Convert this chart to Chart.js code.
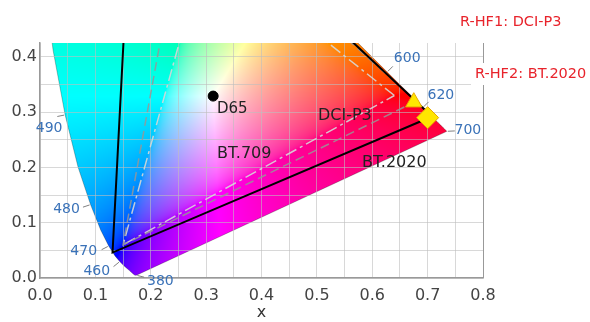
<!DOCTYPE html>
<html>
<head>
<meta charset="utf-8">
<script src="https://cdn.jsdelivr.net/npm/chart.js@4.4.0/dist/chart.umd.min.js"></script>
<style>
  html, body { margin: 0; padding: 0; background: #fff; }
  #wrap { width: 590px; height: 322px; }
</style>
</head>
<body>
<div id="wrap"><canvas id="cie"></canvas></div>
<script>
// CIE 1931 spectral locus, 380 - 700 nm in 5 nm steps
const wavelengths = [380, 385, 390, 395, 400, 405, 410, 415, 420, 425, 430, 435, 440, 445, 450, 455,
    460, 465, 470, 475, 480, 485, 490, 495, 500, 505, 510, 515, 520, 525, 530, 535, 540, 545, 550,
    555, 560, 565, 570, 575, 580, 585, 590, 595, 600, 605, 610, 615, 620, 625, 630, 635, 640, 645,
    650, 655, 660, 665, 670, 675, 680, 685, 690, 695, 700];
const locusX = [0.1741, 0.1740, 0.1738, 0.1736, 0.1733, 0.1730, 0.1726, 0.1721, 0.1714, 0.1703, 0.1689,
    0.1669, 0.1644, 0.1611, 0.1566, 0.1510, 0.1440, 0.1355, 0.1241, 0.1096, 0.0913, 0.0687, 0.0454,
    0.0235, 0.0082, 0.0039, 0.0139, 0.0389, 0.0743, 0.1142, 0.1547, 0.1929, 0.2296, 0.2658, 0.3016,
    0.3373, 0.3731, 0.4087, 0.4441, 0.4788, 0.5125, 0.5448, 0.5752, 0.6029, 0.6270, 0.6482, 0.6658,
    0.6801, 0.6915, 0.7006, 0.7079, 0.7140, 0.7190, 0.7230, 0.7260, 0.7283, 0.7300, 0.7311, 0.7320,
    0.7327, 0.7334, 0.7340, 0.7344, 0.7346, 0.7347];
const locusY = [0.0050, 0.0050, 0.0049, 0.0049, 0.0048, 0.0048, 0.0048, 0.0048, 0.0051, 0.0058, 0.0069,
    0.0086, 0.0109, 0.0138, 0.0177, 0.0227, 0.0297, 0.0399, 0.0578, 0.0868, 0.1327, 0.2007, 0.2950,
    0.4127, 0.5384, 0.6548, 0.7502, 0.8120, 0.8338, 0.8262, 0.8059, 0.7816, 0.7543, 0.7243, 0.6923,
    0.6589, 0.6245, 0.5896, 0.5547, 0.5202, 0.4866, 0.4544, 0.4242, 0.3965, 0.3725, 0.3514, 0.3340,
    0.3197, 0.3083, 0.2993, 0.2920, 0.2859, 0.2809, 0.2770, 0.2740, 0.2717, 0.2700, 0.2689, 0.2680,
    0.2673, 0.2666, 0.2660, 0.2656, 0.2654, 0.2653];
const wlLabels = [380, 460, 470, 480, 490, 600, 620, 700];

// colour gamut primaries (R, G, B)
const bt709X = [0.64, 0.30, 0.15];
const bt709Y = [0.33, 0.60, 0.06];
const p3X = [0.68, 0.265, 0.15];
const p3Y = [0.32, 0.69, 0.06];
const bt2020X = [0.708, 0.17, 0.131];
const bt2020Y = [0.292, 0.797, 0.046];

// white point and the two red markers
const d65X = [0.3127];
const d65Y = [0.329];
const hf1X = [0.675];
const hf1Y = [0.318];
const hf2X = [0.70];
const hf2Y = [0.29];

const xTickLabels = ['0.0', '0.1', '0.2', '0.3', '0.4', '0.5', '0.6', '0.7', '0.8'];
const yTickLabels = ['0.0', '0.1', '0.2', '0.3', '0.4'];

function points(xs, ys, closed) {
    const pts = xs.map((v, i) => ({ x: v, y: ys[i] }));
    if (closed) pts.push(pts[0]);
    return pts;
}

/* chromaticity -> displayable sRGB, out of gamut colours partly desaturated */
function xyToRgb(x, y) {
    if (y < 0.0005) y = 0.0005;
    const X = x / y, Y = 1, Z = (1 - x - y) / y;
    let r = 3.2406 * X - 1.5372 * Y - 0.4986 * Z;
    let g = -0.9689 * X + 1.8758 * Y + 0.0415 * Z;
    let b = 0.0557 * X - 0.2040 * Y + 1.0570 * Z;
    const mn = Math.min(r, g, b);
    if (mn < 0) { r -= mn * 0.5; g -= mn * 0.5; b -= mn * 0.5; }
    r = Math.max(0, r); g = Math.max(0, g); b = Math.max(0, b);
    const mx = Math.max(r, g, b);
    return [r, g, b].map(c => {
        c = c / mx;
        c = c <= 0.0031308 ? 12.92 * c : 1.055 * Math.pow(c, 1 / 2.4) - 0.055;
        return Math.round(255 * Math.min(1, Math.max(0, c)));
    });
}

function locusPath(ctx, sx, sy) {
    ctx.beginPath();
    locusX.forEach((v, i) => {
        const px = sx.getPixelForValue(v), py = sy.getPixelForValue(locusY[i]);
        if (i) ctx.lineTo(px, py); else ctx.moveTo(px, py);
    });
    ctx.closePath();
}

/* paints the horseshoe before the grid is drawn */
const locusFill = {
    id: 'locusFill',
    beforeDraw(chart) {
        const { ctx, chartArea: a, scales } = chart;
        const sx = scales.x, sy = scales.y;
        const w = Math.ceil(a.right - a.left), h = Math.ceil(a.bottom - a.top);
        const off = document.createElement('canvas');
        off.width = w;
        off.height = h;
        const octx = off.getContext('2d');
        const img = octx.createImageData(w, h);
        for (let j = 0; j < h; j++) {
            const cy = sy.getValueForPixel(a.top + j + 0.5);
            for (let i = 0; i < w; i++) {
                const cx = sx.getValueForPixel(a.left + i + 0.5);
                const rgb = xyToRgb(cx, cy);
                const k = (j * w + i) * 4;
                img.data[k] = rgb[0];
                img.data[k + 1] = rgb[1];
                img.data[k + 2] = rgb[2];
                img.data[k + 3] = 255;
            }
        }
        octx.putImageData(img, 0, 0);

        ctx.save();
        ctx.beginPath();
        ctx.rect(a.left, a.top, a.right - a.left, a.bottom - a.top);
        ctx.clip();
        locusPath(ctx, sx, sy);
        ctx.save();
        ctx.clip();
        ctx.drawImage(off, a.left, a.top);
        ctx.restore();
        ctx.strokeStyle = 'rgba(0,0,0,0.25)';
        ctx.lineWidth = 1;
        ctx.stroke();
        ctx.restore();
    }
};

// label centre offsets (px) from the locus point
const wlOffsets = { 380: [24, 6], 460: [-23, 10], 470: [-25, 5], 480: [-24, 5], 490: [-16, 13],
    600: [20, -14], 620: [18, -12], 700: [21, -1] };

const textLabels = [
    { text: 'D65', x: 0.3196, y: 0.3056, size: 15 },
    { text: 'BT.709', x: 0.3196, y: 0.225, size: 16 },
    { text: 'DCI-P3', x: 0.502, y: 0.294, size: 16 },
    { text: 'BT.2020', x: 0.5815, y: 0.209, size: 16 }
];

const annotate = {
    id: 'annotate',
    afterDraw(chart) {
        const { ctx, scales } = chart;
        const sx = scales.x, sy = scales.y;
        const wx = sx.getPixelForValue(d65X[0]), wy = sy.getPixelForValue(d65Y[0]);
        ctx.save();

        // wavelength ticks and labels
        ctx.font = '14px "DejaVu Sans"';
        ctx.textAlign = 'center';
        ctx.textBaseline = 'middle';
        for (const wl of wlLabels) {
            const i = wavelengths.indexOf(wl);
            const px = sx.getPixelForValue(locusX[i]), py = sy.getPixelForValue(locusY[i]);
            const off = wlOffsets[wl];
            const i0 = Math.max(0, i - 2), i1 = Math.min(wavelengths.length - 1, i + 2);
            let tx = sx.getPixelForValue(locusX[i1]) - sx.getPixelForValue(locusX[i0]);
            let ty = sy.getPixelForValue(locusY[i1]) - sy.getPixelForValue(locusY[i0]);
            let len = Math.hypot(tx, ty);
            let nx, ny;
            if (len < 2) {
                len = Math.hypot(off[0], off[1]);
                nx = off[0] / len; ny = off[1] / len;
            } else {
                nx = ty / len; ny = -tx / len;
                if (nx * (px - wx) + ny * (py - wy) < 0) { nx = -nx; ny = -ny; }
            }
            ctx.strokeStyle = '#808080';
            ctx.lineWidth = 1;
            ctx.beginPath();
            ctx.moveTo(px + nx, py + ny);
            ctx.lineTo(px + nx * 8, py + ny * 8);
            ctx.stroke();
            ctx.fillStyle = '#3a72b8';
            ctx.fillText(String(wl), px + off[0], py + off[1]);
        }

        // gamut names
        ctx.textAlign = 'left';
        ctx.fillStyle = '#222';
        for (const t of textLabels) {
            ctx.font = t.size + 'px "DejaVu Sans"';
            ctx.fillText(t.text, sx.getPixelForValue(t.x), sy.getPixelForValue(t.y));
        }

        // notes in the top right corner
        ctx.font = '14.5px "DejaVu Sans"';
        ctx.fillStyle = '#fff';
        ctx.fillRect(471, 63, 119, 22);
        ctx.fillStyle = '#e8232b';
        ctx.fillText('R-HF1: DCI-P3', 460, 22);
        ctx.fillText('R-HF2: BT.2020', 475, 74);
        ctx.restore();
    }
};

new Chart('cie', {
    type: 'scatter',
    data: {
        datasets: [
            {
                label: 'HF2', data: points(hf2X, hf2Y), pointStyle: 'rectRot', pointRadius: 11,
                backgroundColor: '#ffe600', borderColor: '#e8a800', borderWidth: 1, order: 0
            },
            {
                label: 'HF1', data: points(hf1X, hf1Y), pointStyle: 'triangle', pointRadius: 9.5,
                backgroundColor: '#ffe600', borderColor: '#e8a800', borderWidth: 1, order: 1
            },
            {
                label: 'D65', data: points(d65X, d65Y), pointRadius: 5,
                backgroundColor: '#000', borderColor: '#000', order: 2
            },
            {
                label: 'BT.2020', data: points(bt2020X, bt2020Y, true), showLine: true, pointRadius: 0,
                borderColor: '#000', borderWidth: 2, order: 3
            },
            {
                label: 'DCI-P3', data: points(p3X, p3Y, true), showLine: true, pointRadius: 0,
                borderColor: 'rgba(150,150,150,0.85)', borderWidth: 1.5, borderDash: [9, 5], order: 4
            },
            {
                label: 'BT.709', data: points(bt709X, bt709Y, true), showLine: true, pointRadius: 0,
                borderColor: 'rgba(215,215,215,0.9)', borderWidth: 1.5, borderDash: [12, 4, 3, 4], order: 5
            }
        ]
    },
    options: {
        responsive: true,
        maintainAspectRatio: false,
        animation: false,
        layout: { padding: { top: 43, right: 107, left: 0, bottom: 0 } },
        plugins: { legend: { display: false }, tooltip: { enabled: false } },
        scales: {
            x: {
                type: 'linear', min: 0, max: 0.8,
                afterFit(scale) { scale.height = 44; },
                border: { color: '#999', width: 1.5 },
                grid: {
                    drawTicks: false,
                    color: (c) => (c.tick && Math.abs(c.tick.value - 0.8) < 1e-6) ? '#999' : 'rgba(190,190,190,0.6)'
                },
                ticks: {
                    stepSize: 0.05, autoSkip: false, maxRotation: 0, padding: 8,
                    color: '#444', font: { family: 'DejaVu Sans', size: 16 },
                    callback: (v) => { const i = Math.round(v * 20); return i % 2 === 0 ? xTickLabels[i / 2] : ''; }
                },
                title: { display: true, text: 'x', color: '#333', padding: { top: 3, bottom: 0 }, font: { family: 'DejaVu Sans', size: 16 } }
            },
            y: {
                type: 'linear', min: 0, max: 0.425,
                afterFit(scale) { scale.width = 40; },
                border: { color: '#999', width: 1.5 },
                grid: { drawTicks: false, color: 'rgba(190,190,190,0.6)' },
                ticks: {
                    stepSize: 0.05, autoSkip: false, includeBounds: false, padding: 3,
                    color: '#444', font: { family: 'DejaVu Sans', size: 16 },
                    callback: (v) => { const i = Math.round(v * 20); return i % 2 === 0 ? yTickLabels[i / 2] : ''; }
                }
            }
        }
    },
    plugins: [locusFill, annotate]
});
</script>
</body>
</html>
